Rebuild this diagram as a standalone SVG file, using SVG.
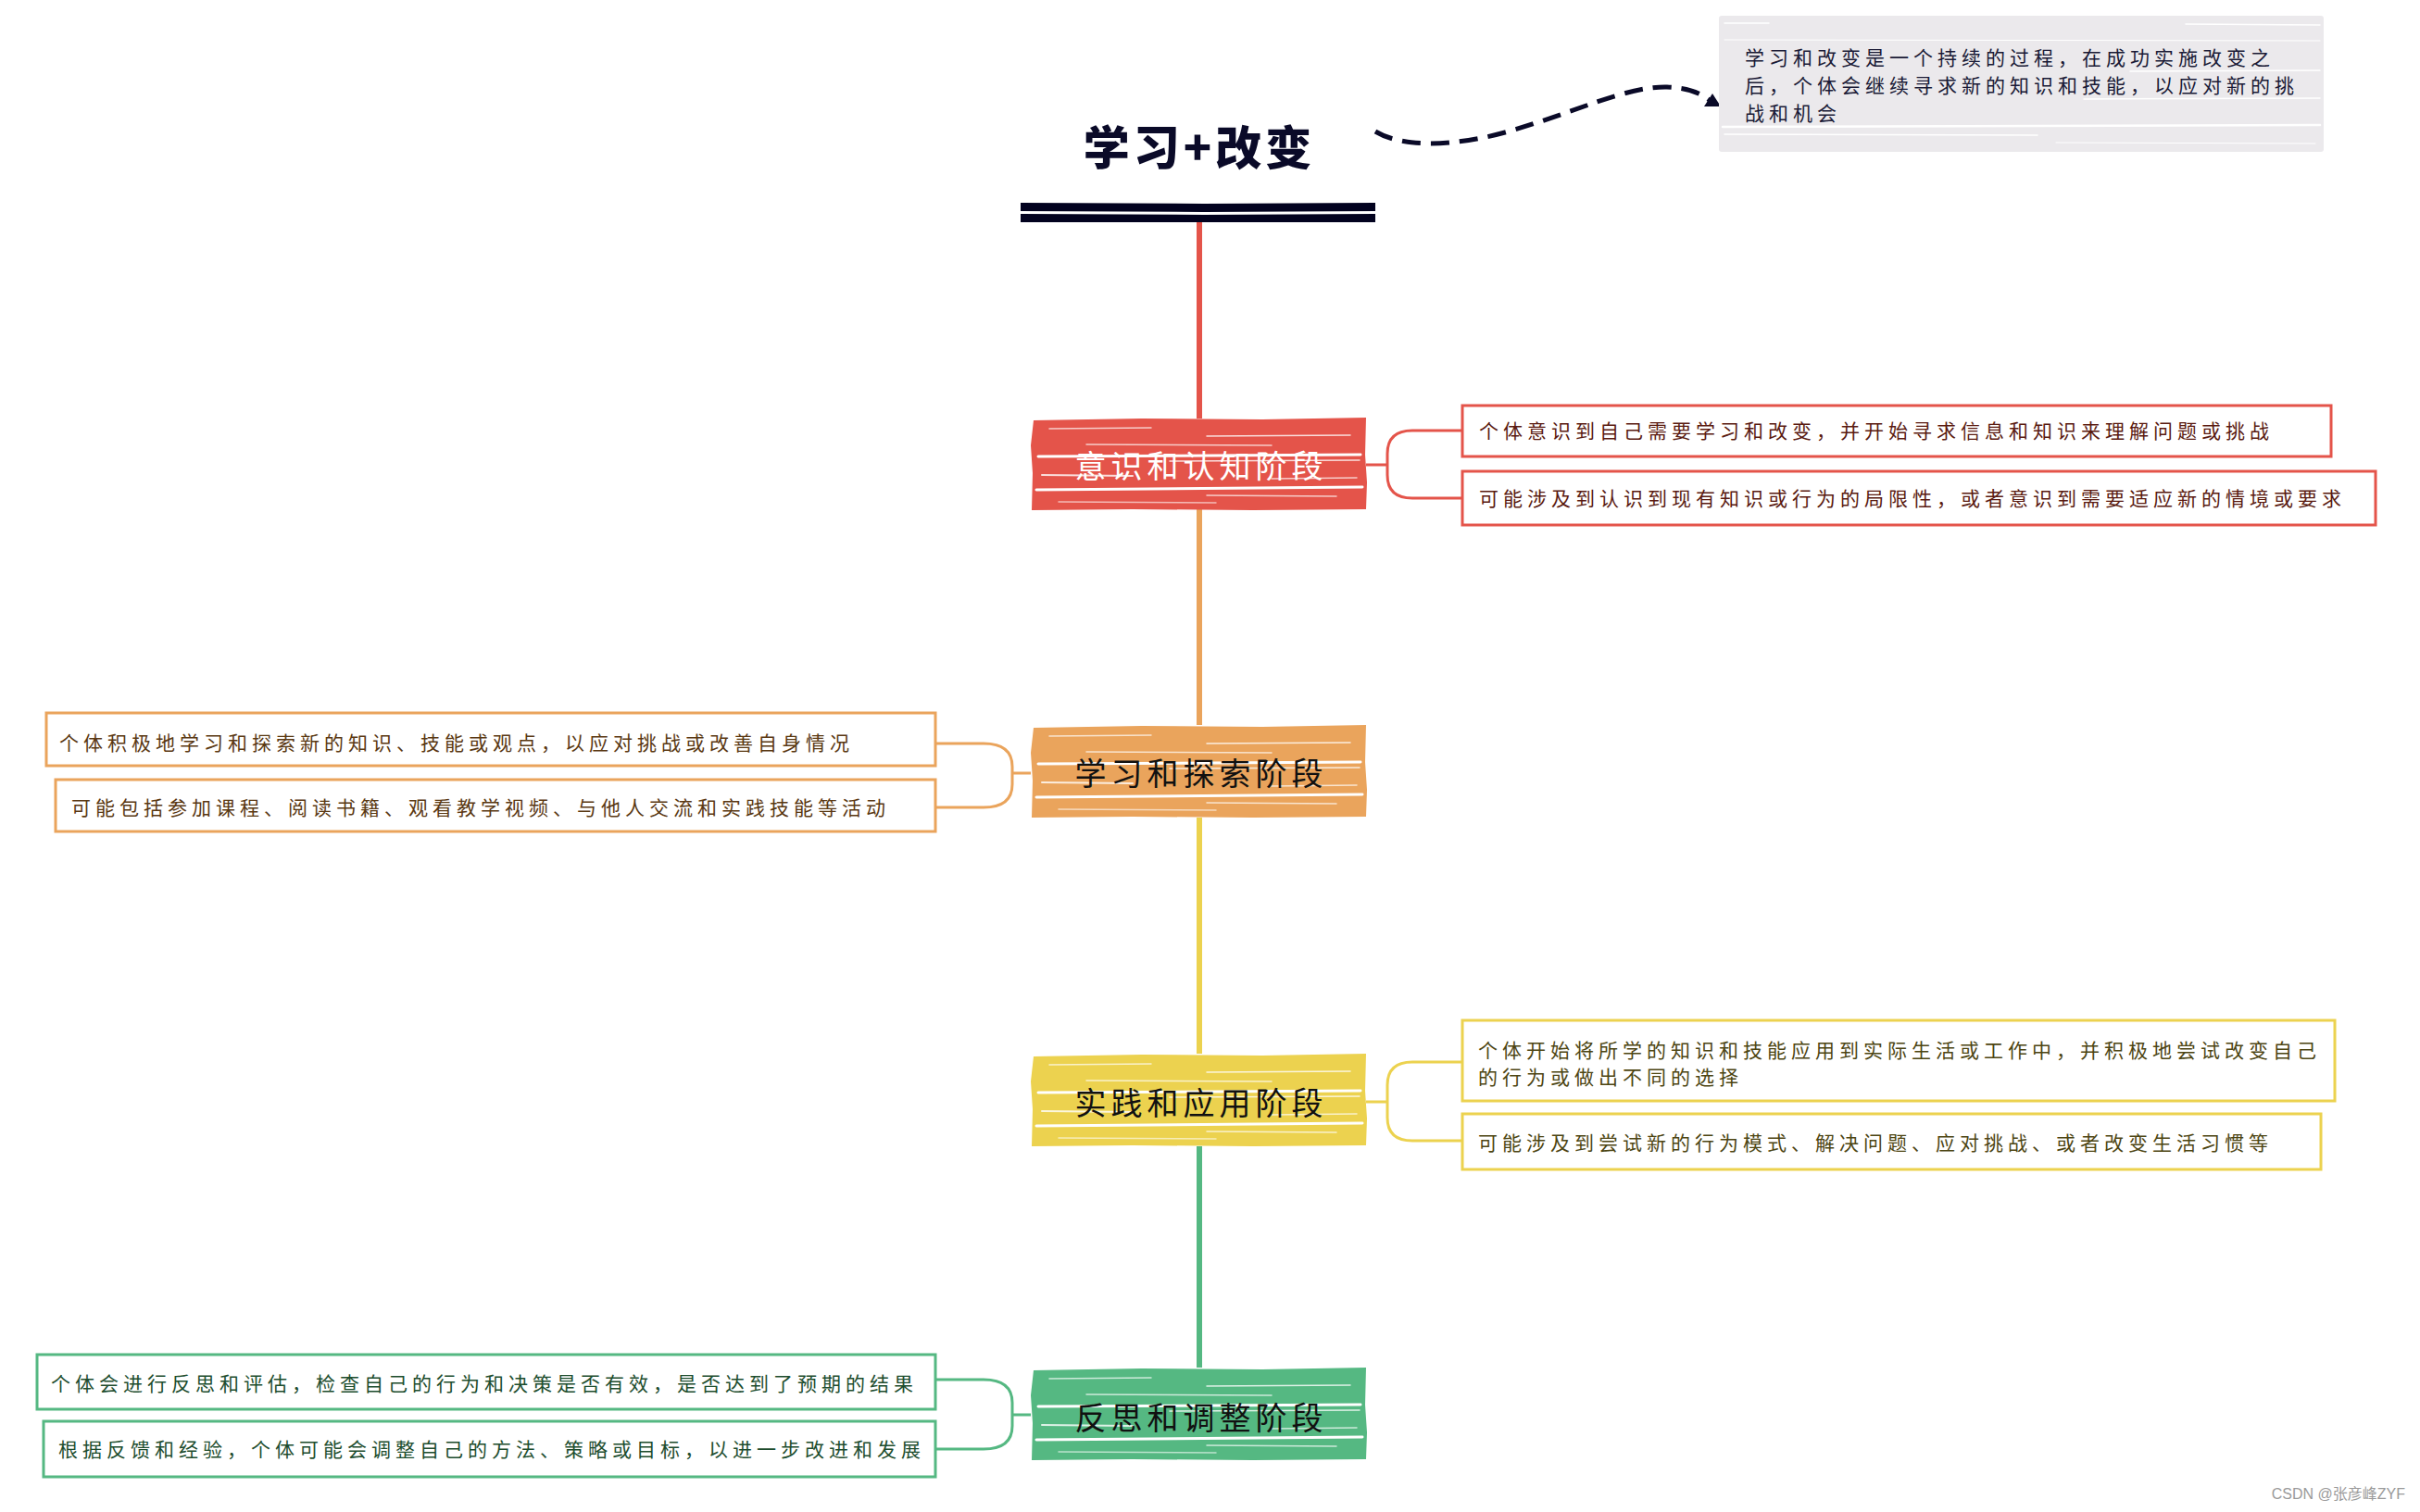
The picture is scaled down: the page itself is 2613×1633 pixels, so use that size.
<svg xmlns="http://www.w3.org/2000/svg" xmlns:xlink="http://www.w3.org/1999/xlink" width="2613" height="1633" viewBox="0 0 2613 1633">
<style>
  .t { font-family: "Noto Sans CJK SC", "Noto Sans", sans-serif; font-size: 21px; letter-spacing: 5px; dominant-baseline: central; }
  .nt { font-family: "Noto Sans CJK SC", "Noto Sans", sans-serif; font-size: 34px; letter-spacing: 5px; font-weight: 400; dominant-baseline: central; text-anchor: middle; }
  .box { fill: #ffffff; stroke-width: 3; }
  .br { fill: none; stroke-width: 3; }
  .vl { fill: none; stroke-width: 6; }
  .red { stroke: #e4544a; }
  .org { stroke: #eaa45c; }
  .yel { stroke: #ecd24f; }
  .grn { stroke: #55b882; }
  .streak { stroke: #ffffff; fill: none; stroke-linecap: round; }
</style>
<defs>
  <g id="streaks">
    <line class="streak" x1="20" y1="12" x2="130" y2="11" stroke-width="1.5" opacity="0.7"/>
    <line class="streak" x1="190" y1="20" x2="345" y2="19" stroke-width="1.5" opacity="0.8"/>
    <line class="streak" x1="60" y1="29" x2="260" y2="30" stroke-width="1.5" opacity="0.7"/>
    <line class="streak" x1="8" y1="42" x2="356" y2="40" stroke-width="3"/>
    <line class="streak" x1="150" y1="47" x2="355" y2="46" stroke-width="1.5" opacity="0.8"/>
    <line class="streak" x1="12" y1="62" x2="110" y2="63" stroke-width="2" opacity="0.8"/>
    <line class="streak" x1="260" y1="66" x2="352" y2="65" stroke-width="1.5" opacity="0.7"/>
    <line class="streak" x1="6" y1="78" x2="358" y2="75" stroke-width="3"/>
    <line class="streak" x1="190" y1="84" x2="330" y2="85" stroke-width="1.5" opacity="0.7"/>
    <line class="streak" x1="30" y1="91" x2="200" y2="92" stroke-width="1.5" opacity="0.6"/>
  </g>
  <path id="nodeShape" d="M3,3 L120,1 L250,2 L362,0 L361,40 L363,70 L362,99 L240,100 L110,99 L1,100 L2,60 L0,30 Z"/>
  <marker id="tri" markerUnits="userSpaceOnUse" viewBox="0 0 18 14" markerWidth="18" markerHeight="14" refX="9" refY="10" orient="0">
    <path d="M9,0 L18,14 L0,14 Z" fill="#0a0a28"/>
  </marker>
</defs>
<rect x="0" y="0" width="2613" height="1633" fill="#ffffff"/>

<g id="connectors">
  <path class="vl red" d="M1295,240 V452"/>
  <path class="vl org" d="M1295,550 V783"/>
  <path class="vl yel" d="M1295,883 V1138"/>
  <path class="vl grn" d="M1295,1238 V1477"/>
  <path class="br red" d="M1475,502 H1498 M1579,465 H1525 Q1498,465 1498,490 V513 Q1498,538 1525,538 H1579"/>
  <path class="br org" d="M1113,835 H1093 M1010,803 H1062 Q1093,803 1093,828 V847 Q1093,872 1062,872 H1010"/>
  <path class="br yel" d="M1475,1190 H1498 M1579,1147 H1525 Q1498,1147 1498,1172 V1207 Q1498,1232 1525,1232 H1579"/>
  <path class="br grn" d="M1113,1528 H1093 M1010,1490 H1062 Q1093,1490 1093,1515 V1540 Q1093,1565 1062,1565 H1010"/>
  <path d="M1485,142 C1515,160 1570,158 1625,143 C1700,122 1755,93 1800,94 C1822,95 1838,100 1849,111" fill="none" stroke="#0a0a28" stroke-width="5" stroke-dasharray="20 11" marker-end="url(#tri)"/>
</g>

<g id="title">
  <text x="1295" y="156" font-family="Noto Sans CJK SC, sans-serif" font-size="50" font-weight="900" letter-spacing="4" fill="#0a0a28" text-anchor="middle" dominant-baseline="central">学习+改变</text>
  <path d="M1102,219 L1300,220 L1485,219 L1485,228 L1300,229 L1102,228 Z" fill="#02021f"/>
  <path d="M1102,231 L1300,232 L1485,231 L1485,240 L1300,240 L1102,240 Z" fill="#02021f"/>
</g>

<g id="note">
  <rect x="1856" y="17" width="653" height="147" rx="3" fill="#ebe9ec"/>
  <g stroke="#ffffff" stroke-linecap="round" fill="none">
    <line x1="1862" y1="25" x2="1910" y2="25" stroke-width="1.5"/>
    <line x1="2360" y1="26" x2="2505" y2="27" stroke-width="1.5"/>
    <line x1="1862" y1="43" x2="2505" y2="44" stroke-width="1"/>
    <line x1="2300" y1="77" x2="2505" y2="76" stroke-width="1.5"/>
    <line x1="2250" y1="107" x2="2505" y2="106" stroke-width="1.5"/>
    <line x1="1860" y1="137" x2="2505" y2="135" stroke-width="2.5"/>
    <line x1="1862" y1="145" x2="2200" y2="146" stroke-width="1.5"/>
    <line x1="2220" y1="154" x2="2500" y2="155" stroke-width="1"/>
  </g>
  <text class="t" fill="#1a1a36" x="1884" y="61">学习和改变是一个持续的过程，在成功实施改变之</text>
  <text class="t" fill="#1a1a36" x="1884" y="91">后，个体会继续寻求新的知识和技能，以应对新的挑</text>
  <text class="t" fill="#1a1a36" x="1884" y="121">战和机会</text>
</g>

<g id="node-awareness">
  <use href="#nodeShape" x="1113" y="451" fill="#e4544a"/>
  <use href="#streaks" x="1113" y="451"/>
  <text class="nt" x="1297" y="501" fill="#ffffff">意识和认知阶段</text>
</g>
<g id="awareness-1">
  <rect class="box red" x="1579" y="438" width="938" height="55"/>
  <text class="t" x="1597" y="464" fill="#5a1a10">个体意识到自己需要学习和改变，并开始寻求信息和知识来理解问题或挑战</text>
</g>
<g id="awareness-2">
  <rect class="box red" x="1579" y="509" width="986" height="58"/>
  <text class="t" x="1597" y="537" fill="#5a1a10">可能涉及到认识到现有知识或行为的局限性，或者意识到需要适应新的情境或要求</text>
</g>

<g id="node-learning">
  <use href="#nodeShape" x="1113" y="783" fill="#eaa45c"/>
  <use href="#streaks" x="1113" y="783"/>
  <text class="nt" x="1297" y="833" fill="#111111">学习和探索阶段</text>
</g>
<g id="learning-1">
  <rect class="box org" x="50" y="770" width="960" height="57"/>
  <text class="t" x="64" y="801" fill="#5a3812">个体积极地学习和探索新的知识、技能或观点，以应对挑战或改善自身情况</text>
</g>
<g id="learning-2">
  <rect class="box org" x="60" y="842" width="950" height="56"/>
  <text class="t" x="77" y="871" fill="#5a3812">可能包括参加课程、阅读书籍、观看教学视频、与他人交流和实践技能等活动</text>
</g>

<g id="node-practice">
  <use href="#nodeShape" x="1113" y="1138" fill="#ecd24f"/>
  <use href="#streaks" x="1113" y="1138"/>
  <text class="nt" x="1297" y="1189" fill="#111111">实践和应用阶段</text>
</g>
<g id="practice-1">
  <rect class="box yel" x="1579" y="1102" width="942" height="87"/>
  <text class="t" x="1596" y="1133" fill="#4d4512">个体开始将所学的知识和技能应用到实际生活或工作中，并积极地尝试改变自己</text>
  <text class="t" x="1596" y="1162" fill="#4d4512">的行为或做出不同的选择</text>
</g>
<g id="practice-2">
  <rect class="box yel" x="1579" y="1203" width="927" height="60"/>
  <text class="t" x="1596" y="1233" fill="#4d4512">可能涉及到尝试新的行为模式、解决问题、应对挑战、或者改变生活习惯等</text>
</g>

<g id="node-reflection">
  <use href="#nodeShape" x="1113" y="1477" fill="#55b882"/>
  <use href="#streaks" x="1113" y="1477"/>
  <text class="nt" x="1297" y="1529" fill="#111111">反思和调整阶段</text>
</g>
<g id="reflection-1">
  <rect class="box grn" x="40" y="1463" width="970" height="59"/>
  <text class="t" x="55" y="1493" fill="#1d4d2e">个体会进行反思和评估，检查自己的行为和决策是否有效，是否达到了预期的结果</text>
</g>
<g id="reflection-2">
  <rect class="box grn" x="47" y="1535" width="963" height="60"/>
  <text class="t" x="63" y="1564" fill="#1d4d2e">根据反馈和经验，个体可能会调整自己的方法、策略或目标，以进一步改进和发展</text>
</g>

<text x="2597" y="1613" font-family="Liberation Sans, Noto Sans CJK SC, sans-serif" font-size="16" fill="#9a9a9a" text-anchor="end" dominant-baseline="central">CSDN @张彦峰ZYF</text>
</svg>
